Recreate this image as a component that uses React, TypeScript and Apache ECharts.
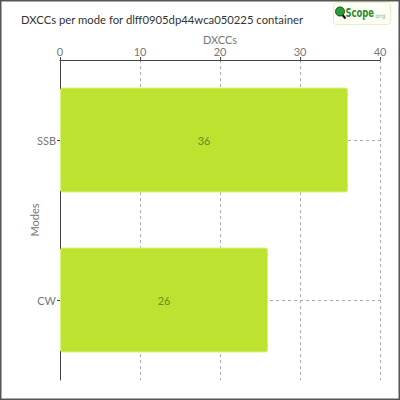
import { useEffect, useRef } from 'react';
import * as echarts from 'echarts';

const modes = ['CW', 'SSB'];
const dxccs = [26, 36];
const xTicks = [0, 10, 20, 30, 40];

const FONT = 'Lato';

export default function App() {
  const chartRef = useRef<HTMLDivElement>(null);

  useEffect(() => {
    if (!chartRef.current) return;
    const chart = echarts.init(chartRef.current, null, { renderer: 'svg' });

    chart.setOption({
      animation: false,
      backgroundColor: '#fff',
      textStyle: { fontFamily: FONT },
      title: {
        text: 'DXCCs per mode for dlff0905dp44wca050225 container',
        left: 16,
        top: 9,
        textStyle: { fontSize: 11.3, fontWeight: 'normal', color: '#333', fontFamily: FONT },
      },
      grid: { left: 60, top: 60, width: 320, height: 320 },
      xAxis: {
        type: 'value',
        position: 'top',
        min: xTicks[0],
        max: xTicks[xTicks.length - 1],
        interval: 10,
        name: 'DXCCs',
        nameLocation: 'middle',
        nameGap: 15,
        nameMoveOverlap: false,
        nameTextStyle: { color: '#777', fontSize: 11 },
        axisLine: { show: true, lineStyle: { color: '#444', width: 1 } },
        axisTick: { show: true, length: 3, lineStyle: { color: '#444' } },
        axisLabel: { color: '#777', fontSize: 11, margin: 3 },
        splitLine: { show: true, lineStyle: { color: '#aaa', type: [3, 3] } },
      },
      yAxis: {
        type: 'category',
        data: modes,
        name: 'Modes',
        nameLocation: 'middle',
        nameGap: 20,
        nameMoveOverlap: false,
        nameRotate: 90,
        nameTextStyle: { color: '#777', fontSize: 11 },
        axisLine: { show: true, lineStyle: { color: '#444', width: 1 } },
        axisTick: { show: true, alignWithLabel: true, length: 3, lineStyle: { color: '#444' } },
        axisLabel: { color: '#777', fontSize: 11, margin: 4 },
        splitLine: { show: true, alignWithLabel: true, lineStyle: { color: '#aaa', type: [3, 3] } },
      },
      series: [
        {
          type: 'bar',
          data: dxccs,
          barWidth: 105,
          z: 3,
          itemStyle: {
            color: '#bde22f',
            borderColor: '#d9f27a',
            borderWidth: 1,
            borderRadius: 2,
          },
          label: {
            show: true,
            position: 'inside',
            color: '#6b8a2a',
            fontSize: 11,
            fontFamily: FONT,
          },
        },
      ],
      graphic: [
        {
          type: 'rect',
          shape: { x: 0.75, y: 0.75, width: 398.5, height: 398.5 },
          style: { fill: 'none', stroke: '#555', lineWidth: 1.5 },
          silent: true,
        },
        {
          type: 'group',
          left: 333,
          top: 2,
          children: [
            {
              type: 'rect',
              shape: { x: 0, y: 0, width: 57, height: 22, r: 3 },
              style: { fill: '#fdfff4', stroke: '#e6efc4', lineWidth: 1 },
            },
            {
              type: 'line',
              shape: { x1: 7, y1: 10, x2: 12, y2: 16 },
              style: { stroke: '#111', lineWidth: 2.2 },
            },
            {
              type: 'circle',
              shape: { cx: 6.5, cy: 9, r: 4.5 },
              style: { fill: '#2e9a3a', stroke: '#114d18', lineWidth: 1 },
            },
            {
              type: 'text',
              x: 12,
              y: 3,
              scaleX: 0.72,
              style: {
                text: 'Scope',
                fill: '#2a8a30',
                font: 'bold 13px "DejaVu Sans Condensed"',
              },
            },
            {
              type: 'text',
              x: 40,
              y: 10,
              style: {
                text: '.org',
                fill: '#7cc36a',
                font: '6px "DejaVu Sans"',
              },
            },
          ],
        },
      ],
    });

    return () => {
      chart.dispose();
    };
  }, []);

  return (
    <div
      ref={chartRef}
      style={{ position: 'fixed', left: 0, top: 0, width: 400, height: 400 }}
    />
  );
}
